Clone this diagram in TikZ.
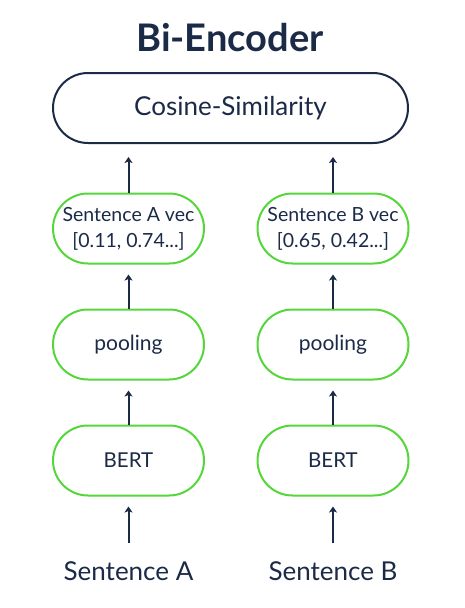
\documentclass[tikz,border=0pt]{standalone}
\usepackage{fontspec}
\setmainfont{Lato}
\usetikzlibrary{arrows.meta,positioning}
\definecolor{navy}{HTML}{1B2A47}
\definecolor{lgreen}{HTML}{55D63A}
\begin{document}
\begin{tikzpicture}[x=1pt,y=1pt,
  pill/.style={draw=lgreen,line width=2pt,rounded corners=35pt,minimum width=151pt,minimum height=70pt,text=navy,align=center,inner sep=0pt},
  bigpill/.style={draw=navy,line width=2pt,rounded corners=35pt,minimum width=355pt,minimum height=70pt,text=navy,inner sep=0pt},
  arr/.style={draw=navy,line width=2pt,-{Stealth[length=6pt,width=8pt,inset=1.5pt]}},
  lbl/.style={text=navy,inner sep=0pt}]
\useasboundingbox (0,0) rectangle (464,-608);
\node[lbl,font=\fontsize{38}{42}\selectfont\bfseries] (title) at (230,-38) {Bi-Encoder};
\node[bigpill,font=\fontsize{26}{30}\selectfont] (cos) at (230.5,-108) {Cosine-Similarity};
\node[pill,font=\fontsize{19.5}{26}\selectfont] (veca) at (128.5,-228.5) {Sentence A vec\\{[0.11, 0.74...]}};
\node[pill,font=\fontsize{19.5}{26}\selectfont] (vecb) at (333,-228.5) {Sentence B vec\\{[0.65, 0.42...]}};
\node[pill,font=\fontsize{21}{24}\selectfont] (poola) at (128.5,-344.5) {pooling};
\node[pill,font=\fontsize{21}{24}\selectfont] (poolb) at (333,-344.5) {pooling};
\node[pill,font=\fontsize{20.5}{24}\selectfont] (berta) at (128.5,-460.5) {BERT};
\node[pill,font=\fontsize{20.5}{24}\selectfont] (bertb) at (333,-460.5) {BERT};
\node[lbl,font=\fontsize{26}{30}\selectfont] (sa) at (128.5,-571) {Sentence A};
\node[lbl,font=\fontsize{26}{30}\selectfont] (sb) at (333,-571) {Sentence B};
\coordinate (sat) at (128.5,-543);
\coordinate (sbt) at (333,-543);
\draw[arr,shorten >=13pt] (veca) -- (veca |- cos.south);
\draw[arr,shorten >=13pt] (vecb) -- (vecb |- cos.south);
\draw[arr,shorten >=10pt] (poola) -- (veca);
\draw[arr,shorten >=10pt] (poolb) -- (vecb);
\draw[arr,shorten >=10pt] (berta) -- (poola);
\draw[arr,shorten >=10pt] (bertb) -- (poolb);
\draw[arr,shorten >=10pt] (sat) -- (berta);
\draw[arr,shorten >=10pt] (sbt) -- (bertb);
\end{tikzpicture}
\end{document}
